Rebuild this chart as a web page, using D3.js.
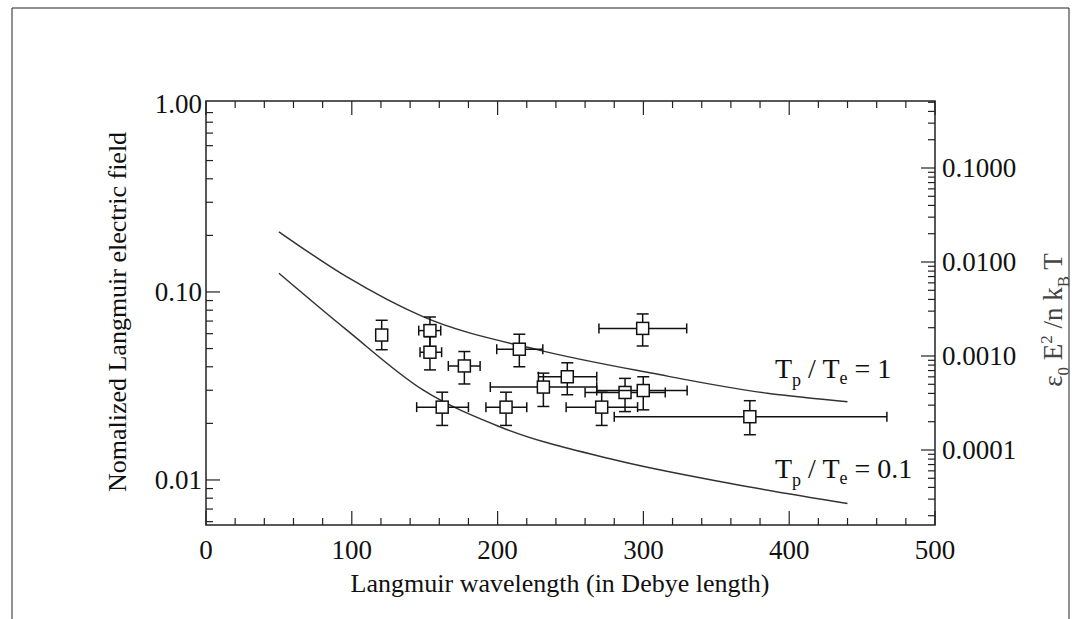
<!DOCTYPE html><html><head><meta charset="utf-8"><script src="https://cdn.jsdelivr.net/npm/d3@7"></script>
<style>body{margin:0;background:#fff}text{font-family:"Liberation Serif","DejaVu Serif",serif;fill:#111}</style></head><body><svg id="c" width="1081" height="619"></svg><script>
const px=[120.5,153.6,153.6,177.2,162,205.8,214.9,231.4,247.8,299.5,287.4,299.9,271.4,373];
const py=[0.059,0.0623,0.0478,0.0404,0.0244,0.0244,0.0496,0.0312,0.0354,0.064,0.0292,0.0299,0.0244,0.0217];
const xlo=[119,145.9,146.8,166.2,144.5,192,199.4,195,228,269.5,260,268,247,280];
const xhi=[122,161,161.6,188,180,220,231,268,268,329.7,315,330,296,467];
const ylo=[0.0493,0.0512,0.0385,0.0324,0.0195,0.0195,0.040,0.0246,0.0284,0.0516,0.0231,0.0236,0.0195,0.0174];
const yhi=[0.0707,0.0736,0.0578,0.0482,0.0293,0.0293,0.0596,0.037,0.042,0.0764,0.0347,0.0354,0.0293,0.0264];
const cxU=[50,96.4,148.8,227.7,306.4,385,440];
const cUp=[0.209,0.1206,0.0739,0.0492,0.0369,0.0289,0.0261];
const cxL=[50,96.4,148.8,201.4,280,358.9,440];
const cLo=[0.1257,0.0628,0.0301,0.0192,0.0128,0.0096,0.0075];
const xTicks=[0,100,200,300,400,500], yTicks=[0.01,0.1,1], rTicks=[0.0001,0.001,0.01,0.1];
const svg=d3.select("#c");
const L=206,R=935,T=101,B=525;
const x=d3.scaleLinear().domain([0,500]).range([L,R]);
const y=d3.scaleLog().domain([0.00576,1.037]).range([B,T]);
const c=0.48;
const yr=d3.scaleLog().domain([c*0.00576**2,c*1.037**2]).range([B,T]);
svg.append("path").attr("d",`M12,619V8H1069V619`).attr("fill","none").attr("stroke","#222");
svg.append("rect").attr("x",L).attr("y",T).attr("width",R-L).attr("height",B-T).attr("fill","none").attr("stroke","#222").attr("stroke-width",1.5);
const g=svg.append("g").attr("stroke","#222").attr("stroke-width",1.2);
d3.range(0,501,20).forEach(v=>{const m=v%100===0, l=m?14:7;
 g.append("line").attr("x1",x(v)).attr("x2",x(v)).attr("y1",B).attr("y2",B-l);
 g.append("line").attr("x1",x(v)).attr("x2",x(v)).attr("y1",T).attr("y2",T+l);});
[0.001,0.01,0.1].forEach(d=>{for(let k=1;k<10;k++){const v=d*k; if(v<y.domain()[0]||v>y.domain()[1])continue;
 const l=k===1?14:7; g.append("line").attr("x1",L).attr("x2",L+l).attr("y1",y(v)).attr("y2",y(v));}});
[1e-6,1e-5,1e-4,1e-3,1e-2,1e-1].forEach(d=>{for(let k=1;k<10;k++){const v=d*k; if(v<yr.domain()[0]||v>yr.domain()[1])continue;
 const l=k===1?14:7; g.append("line").attr("x1",R).attr("x2",R-l).attr("y1",yr(v)).attr("y2",yr(v));}});
const fs=27;
xTicks.forEach(v=>svg.append("text").attr("x",x(v)).attr("y",B+34).attr("text-anchor","middle").attr("font-size",fs).text(v));
yTicks.forEach(v=>svg.append("text").attr("x",L-4).attr("y",y(v)+9).attr("text-anchor","end").attr("font-size",fs).text(v.toFixed(2)));
rTicks.forEach(v=>svg.append("text").attr("x",R+7).attr("y",yr(v)+9).attr("font-size",fs).text(v.toFixed(4)));
svg.append("text").attr("x",560).attr("y",592).attr("text-anchor","middle").attr("font-size",fs-1).text("Langmuir wavelength (in Debye length)");
svg.append("text").attr("transform","translate(126,312) rotate(-90)").attr("text-anchor","middle").attr("font-size",fs-1).text("Nomalized Langmuir electric field");
const rl=svg.append("text").attr("transform","translate(1062,320) rotate(-90)").attr("text-anchor","middle").attr("font-size",fs).style("fill","#444");
rl.append("tspan").text("ε");rl.append("tspan").attr("font-size",17).attr("dy",7).text("0");
rl.append("tspan").attr("dy",-7).text(" E");rl.append("tspan").attr("font-size",17).attr("dy",-10).text("2");
rl.append("tspan").attr("dy",10).text(" /n k");rl.append("tspan").attr("font-size",17).attr("dy",7).text("B");
rl.append("tspan").attr("dy",-7).text(" T");
const mk=(xs)=>d3.line().x((d,i)=>x(xs[i])).y(d=>y(d)).curve(d3.curveMonotoneX);
svg.append("path").attr("d",mk(cxU)(cUp)).attr("fill","none").attr("stroke","#333").attr("stroke-width",1.5);
svg.append("path").attr("d",mk(cxL)(cLo)).attr("fill","none").attr("stroke","#333").attr("stroke-width",1.5);
function lab(yy,val){const t=svg.append("text").attr("x",775).attr("y",yy).attr("font-size",28);
 t.append("tspan").text("T");t.append("tspan").attr("font-size",18).attr("dy",8).text("p");
 t.append("tspan").attr("dy",-8).text(" / T");t.append("tspan").attr("font-size",18).attr("dy",6).text("e");
 t.append("tspan").attr("dy",-6).text(" = "+val);}
lab(378,"1");lab(478,"0.1");
const e=svg.append("g").attr("stroke","#111").attr("stroke-width",1.5).attr("fill","none");
px.forEach((v,i)=>{const X=x(v),Y=y(py[i]);
 e.append("line").attr("x1",x(xlo[i])).attr("x2",x(xhi[i])).attr("y1",Y).attr("y2",Y);
 e.append("line").attr("x1",x(xlo[i])).attr("x2",x(xlo[i])).attr("y1",Y-5).attr("y2",Y+5);
 e.append("line").attr("x1",x(xhi[i])).attr("x2",x(xhi[i])).attr("y1",Y-5).attr("y2",Y+5);
 e.append("line").attr("x1",X).attr("x2",X).attr("y1",y(ylo[i])).attr("y2",y(yhi[i]));
 e.append("line").attr("x1",X-6).attr("x2",X+6).attr("y1",y(ylo[i])).attr("y2",y(ylo[i]));
 e.append("line").attr("x1",X-6).attr("x2",X+6).attr("y1",y(yhi[i])).attr("y2",y(yhi[i]));
 e.append("rect").attr("x",X-6).attr("y",Y-6).attr("width",12).attr("height",12).attr("fill","#fff");});
</script></body></html>
